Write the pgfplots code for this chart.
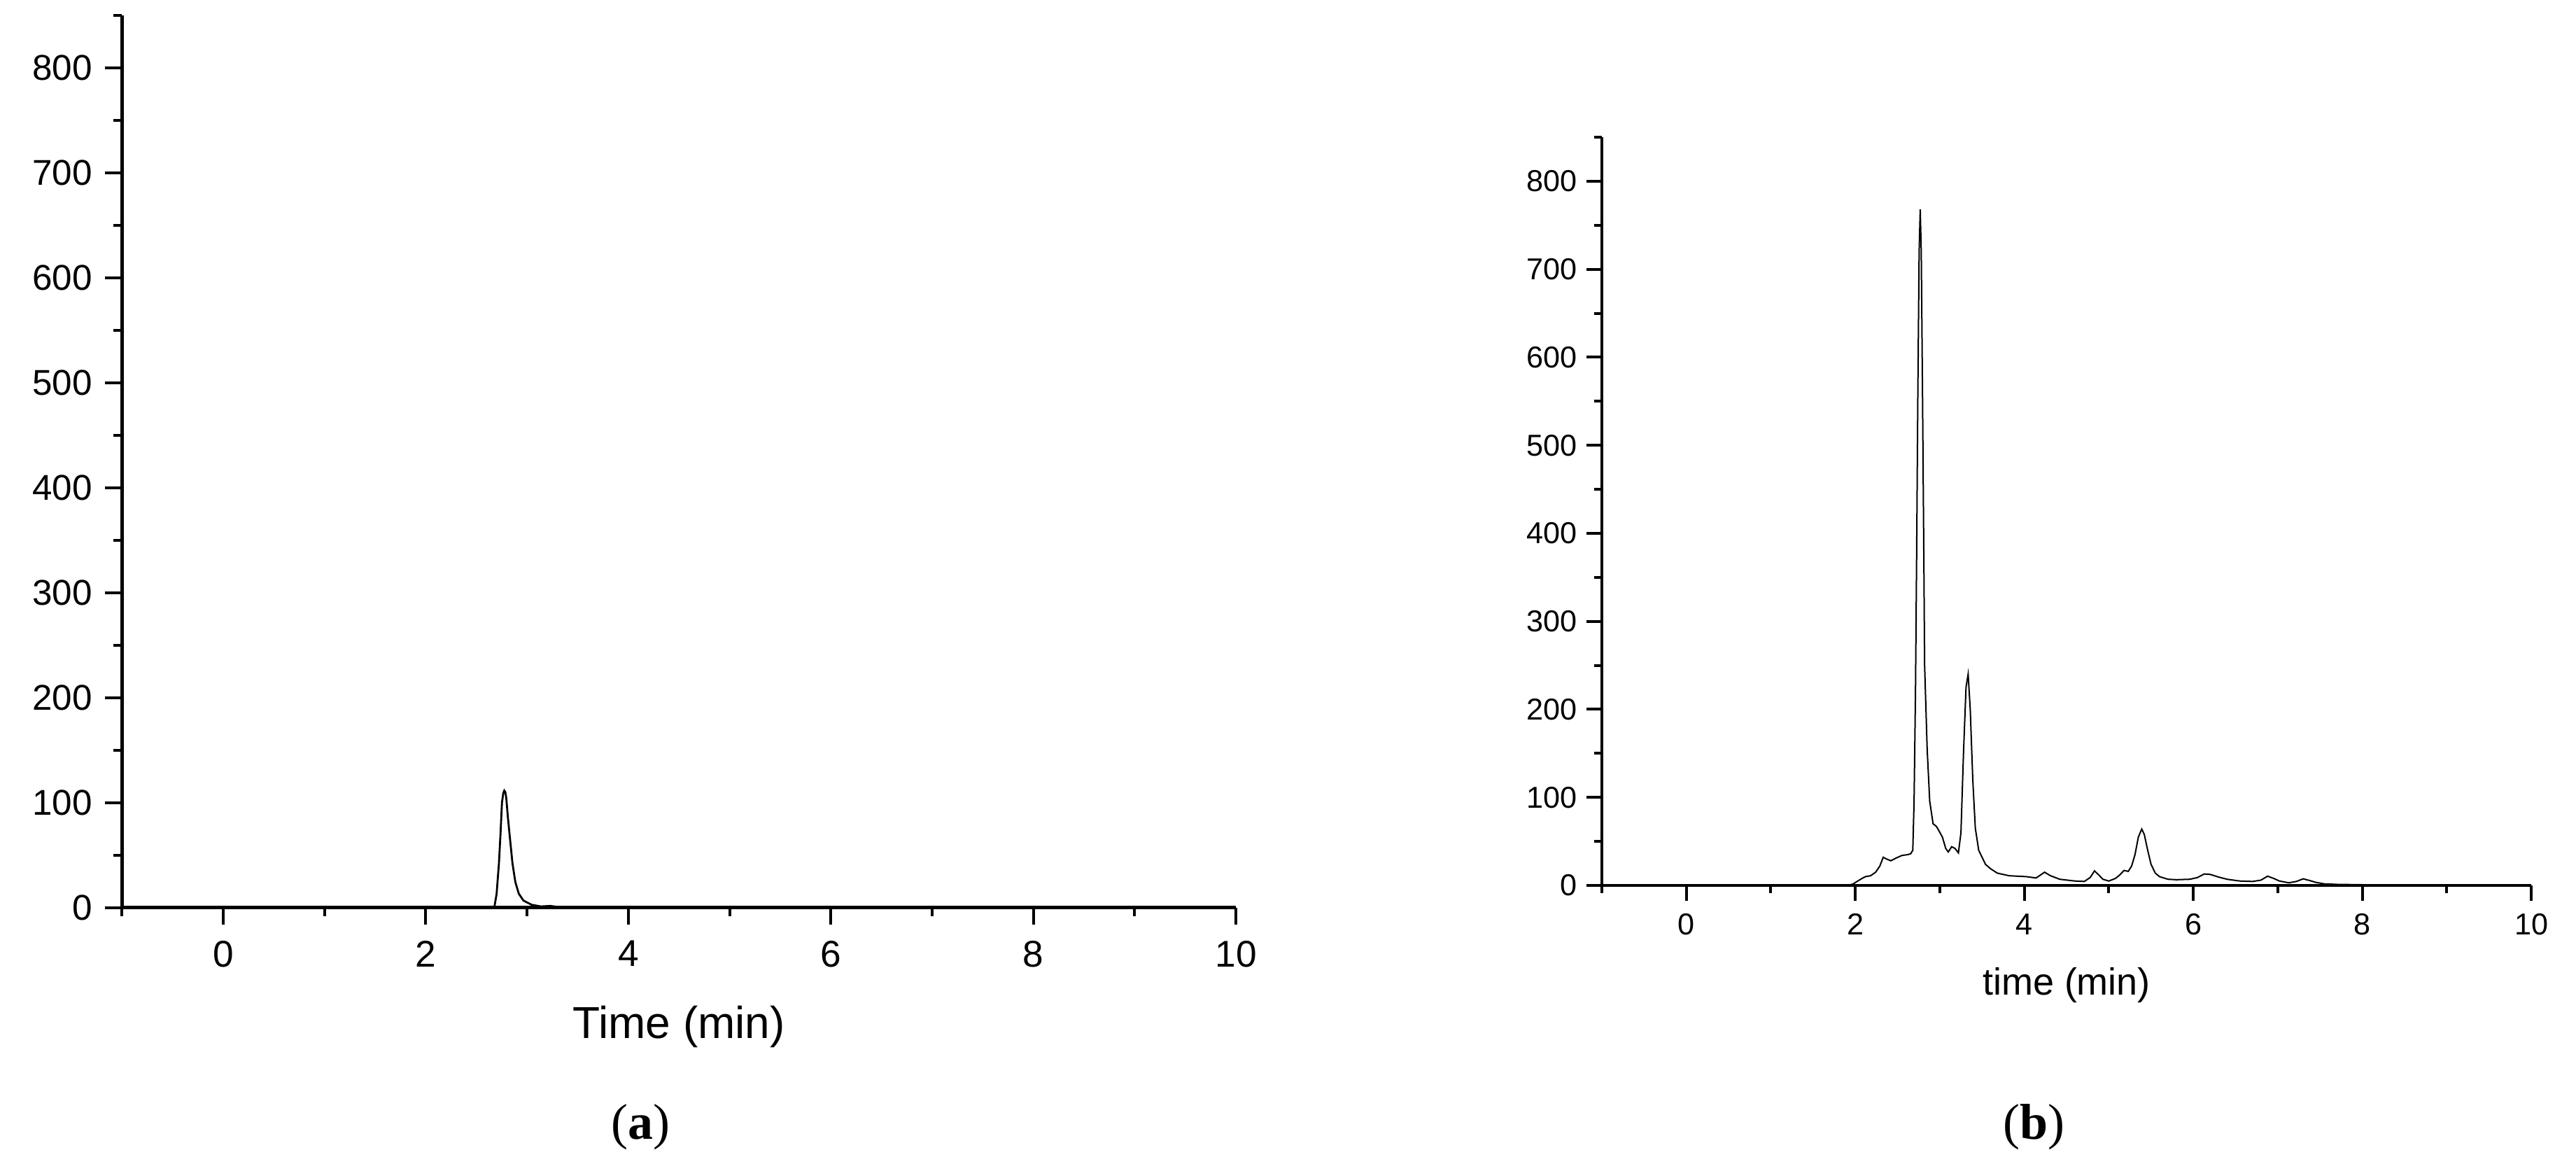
\documentclass[border=0pt]{standalone}
\usepackage{fontspec}
\setmainfont{Liberation Sans}
\newfontfamily\seriffont{Liberation Serif}
\usepackage{pgfplots}
\pgfplotsset{compat=1.18}

\pgfplotsset{
  chrom/.style={
    scale only axis, anchor=south west,
    axis x line*=bottom, axis y line*=left, axis line style={-},
    tick align=outside,
    xmin=-1, xmax=10, ymin=0, ymax=850,
    xtick={0,2,...,10}, minor xtick={-1,1,...,9},
    ytick={0,100,...,800}, minor ytick={50,150,...,850},
    /pgf/number format/assume math mode=true,
    xticklabel style={anchor=north, inner sep=0pt},
    yticklabel style={anchor=east, inner sep=0pt},
    xlabel style={at={(axis description cs:0.5,0)}, anchor=base},
  }
}

\begin{document}
\begin{tikzpicture}
\path[use as bounding box] (0,0) rectangle (920.25pt,415.5pt);

% (a)
\begin{axis}[chrom,
    at={(43.6pt,91.33pt)}, width=397.9pt, height=318.75pt,
    axis line style={line width=1.4pt},
    major tick style={line width=1pt, black}, minor tick style={line width=1pt, black},
    major tick length=6pt, minor tick length=3pt,
    xticklabel style={font=\fontsize{13.3}{15}\selectfont, yshift=-5.65pt},
    yticklabel style={font=\fontsize{12.8}{14}\selectfont, xshift=-4.5pt},
    xlabel={Time (min)},
    xlabel style={font=\fontsize{16}{18}\selectfont, yshift=-46.65pt},
]
\addplot[black, line width=0.7pt] coordinates {
  (0,0) (2.6,0) (2.676,0) (2.699,13) (2.722,42) (2.738,71) (2.752,100)
  (2.765,109) (2.775,111.4) (2.785,110) (2.795,104) (2.810,86.5) (2.833,64)
  (2.856,42) (2.884,24.4) (2.918,13.3) (2.964,6.7) (3.045,2.7) (3.137,1.1)
  (3.23,1.6) (3.32,0.4) (3.4,0) (10,0)
};
\end{axis}

% (b)
\begin{axis}[chrom,
    at={(572.25pt,99.25pt)}, width=332pt, height=267.25pt,
    axis line style={line width=1.2pt},
    major tick style={line width=1pt, black}, minor tick style={line width=1pt, black},
    major tick length=5.4pt, minor tick length=2.7pt,
    xticklabel style={font=\fontsize{10.8}{13}\selectfont, yshift=-4.6pt},
    yticklabel style={font=\fontsize{10.8}{13}\selectfont, xshift=-3.2pt},
    xlabel={time (min)},
    xlabel style={font=\fontsize{13.5}{16}\selectfont, yshift=-39.2pt},
]
\addplot[black, line width=0.5pt] coordinates {
  (0,0) (1.9,0) (1.97,1.5) (2.02,4.5) (2.08,8) (2.12,10) (2.18,11) (2.24,15)
  (2.29,22) (2.33,32) (2.37,30) (2.42,28) (2.48,31) (2.55,34) (2.62,35)
  (2.655,36) (2.68,40) (2.695,95) (2.712,220) (2.725,370) (2.74,560)
  (2.755,720) (2.768,768) (2.78,720) (2.795,560) (2.81,380) (2.82,250)
  (2.85,155) (2.88,96) (2.92,70) (2.96,67) (2.99,62) (3.03,55) (3.07,42)
  (3.10,38) (3.14,44) (3.18,42) (3.22,37) (3.25,60) (3.28,150) (3.31,225)
  (3.335,240) (3.36,200) (3.39,120) (3.42,65) (3.46,40) (3.54,24) (3.6,19)
  (3.68,14) (3.82,11) (4.02,10) (4.14,8.5) (4.24,15) (4.31,11) (4.42,7)
  (4.6,5) (4.71,4.5) (4.78,9) (4.83,16.5) (4.88,12) (4.93,7) (5.0,5)
  (5.08,8) (5.13,12) (5.18,17) (5.23,16) (5.27,22) (5.31,35) (5.35,55)
  (5.39,64) (5.42,58) (5.46,40) (5.5,24) (5.55,14) (5.6,10) (5.7,7)
  (5.8,6.5) (5.96,7) (6.05,9) (6.13,13) (6.2,12.5) (6.3,9.5) (6.4,7)
  (6.55,5) (6.7,4.5) (6.8,6) (6.88,10.5) (6.95,8) (7.02,5) (7.13,3)
  (7.22,4.5) (7.3,7.5) (7.38,5.5) (7.45,3.5) (7.55,1.8) (7.7,1.2) (8.0,0.8)
};
\end{axis}

\node[anchor=base, font=\seriffont\fontsize{18}{20}\selectfont] at (228.75pt,8.75pt) {(\textbf{a})};
\node[anchor=base, font=\seriffont\fontsize{18}{20}\selectfont] at (726.5pt,8.75pt) {(\textbf{b})};
\end{tikzpicture}
\end{document}
